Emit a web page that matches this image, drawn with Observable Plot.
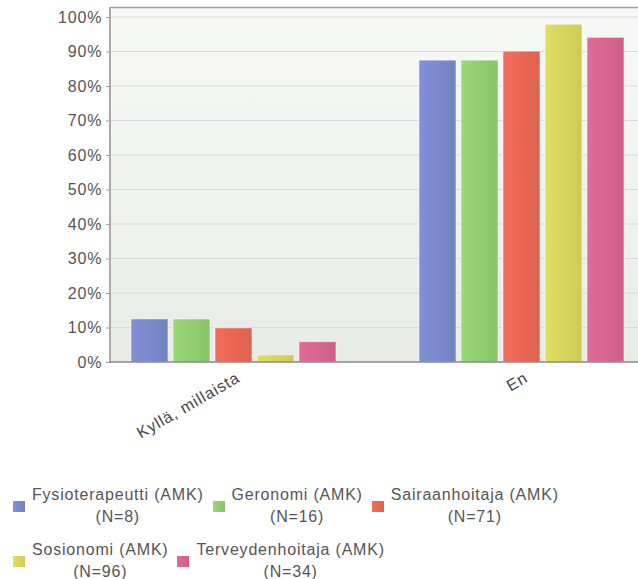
<!DOCTYPE html>
<html>
<head>
<meta charset="utf-8">
<script src="https://cdn.jsdelivr.net/npm/d3@7"></script>
<script src="https://cdn.jsdelivr.net/npm/@observablehq/plot@0.6"></script>
<style>
  body { margin: 0; background: #fff; font-family: "Liberation Sans", Arial, sans-serif; }
  #chart svg text { letter-spacing: 0.9px; }
  .legend { display: flex; flex-wrap: wrap; row-gap: 11px; padding-left: 13px; width: 600px;
            font-size: 16px; color: #555; letter-spacing: 0.8px; margin-top: 6px; }
  .item { display: flex; align-items: center; margin-right: 9px; }
  .sw { width: 12px; height: 11px; }
  .lbl { margin-left: 7px; text-align: center; line-height: 22px; }
</style>
</head>
<body>
<svg width="0" height="0" style="position:absolute">
  <defs id="defs"></defs>
</svg>
<div id="chart"></div>
<div class="legend" id="legend"></div>
<script>
const groups = ["Kyllä, millaista", "En"];
const series = ["Fysioterapeutti (AMK)", "Geronomi (AMK)", "Sairaanhoitaja (AMK)", "Sosionomi (AMK)", "Terveydenhoitaja (AMK)"];
const seriesN = ["(N=8)", "(N=16)", "(N=71)", "(N=96)", "(N=34)"];
const kyllaValues = [0.125, 0.125, 0.099, 0.021, 0.059];
const enValues = [0.875, 0.875, 0.901, 0.979, 0.941];
const yTicks = [0, 0.1, 0.2, 0.3, 0.4, 0.5, 0.6, 0.7, 0.8, 0.9, 1.0];
const colorsLight = ["#8191d8", "#9ad87a", "#f46c5a", "#e0e062", "#e06c98"];
const colorsDark  = ["#7482c0", "#87c468", "#de624f", "#cecb55", "#cc6088"];

const W = 638, H = 478;
const mL = 110, mT = 7, mR = 0, y0 = 362, y100 = 17;
const mB = H - y0;

// gradients
const defs = d3.select("#defs");
series.forEach((s, i) => {
  const g = defs.append("linearGradient").attr("id", "g" + i).attr("x1", 0).attr("x2", 1).attr("y1", 0).attr("y2", 0);
  g.append("stop").attr("offset", "0%").attr("stop-color", colorsLight[i]);
  g.append("stop").attr("offset", "100%").attr("stop-color", colorsDark[i]);
});
const bg = defs.append("linearGradient").attr("id", "bg").attr("x1", 0).attr("x2", 0).attr("y1", 0).attr("y2", 1);
bg.append("stop").attr("offset", "0%").attr("stop-color", "#f8f9f7");
bg.append("stop").attr("offset", "100%").attr("stop-color", "#e8ece5");

const rows = [];
series.forEach((s, i) => {
  rows.push({group: groups[0], series: s, value: kyllaValues[i]});
  rows.push({group: groups[1], series: s, value: enValues[i]});
});

const chart = Plot.plot({
  width: W, height: H,
  marginLeft: mL, marginRight: mR, marginTop: mT, marginBottom: mB,
  style: {fontFamily: "'Liberation Sans', Arial, sans-serif", fontSize: "16px", color: "#555", background: "transparent", overflow: "visible"},
  fx: {domain: groups, paddingInner: 0.173, paddingOuter: 0, label: null},
  x: {domain: series, paddingInner: 0.129, paddingOuter: 0, insetLeft: 19, insetRight: 13, axis: null},
  y: {domain: [0, 1], range: [y0, y100]},
  color: {type: "ordinal", domain: series, range: series.map((s, i) => `url(#g${i})`)},
  marks: [
    Plot.barY(rows, {fx: "group", x: "series", y: "value", fill: "series", stroke: "#ffffff", strokeOpacity: 0.55, strokeWidth: 1}),
    Plot.axisY({ticks: yTicks, tickFormat: d3.format(".0%"), tickSize: 5, tickPadding: 4, stroke: "#999", fill: "#555", label: null}),
    Plot.axisFx({anchor: "bottom", tickRotate: -30, tickSize: 0, tickPadding: 14, dx: 8, fill: "#444", label: null})
  ]
});
document.getElementById("chart").appendChild(chart);

// background and grid across the whole plot area
const svg = d3.select(chart);
const yS = chart.scale("y");
const under = svg.insert("g", ":first-child");
under.append("rect").attr("x", mL).attr("y", mT).attr("width", W - mL - mR).attr("height", y0 - mT).attr("fill", "url(#bg)");
yTicks.slice(1).forEach(t => {
  under.append("line").attr("x1", mL).attr("x2", W - mR).attr("y1", yS.apply(t)).attr("y2", yS.apply(t))
    .attr("stroke", "#d8d9e0").attr("stroke-width", 1);
});
const over = svg.append("g");
over.append("line").attr("x1", mL).attr("x2", W).attr("y1", mT + 0.5).attr("y2", mT + 0.5).attr("stroke", "#a0a0a0").attr("stroke-width", 1.5);
over.append("line").attr("x1", mL).attr("x2", mL).attr("y1", mT).attr("y2", y0).attr("stroke", "#ababab").attr("stroke-width", 2);
over.append("line").attr("x1", mL - 1).attr("x2", W).attr("y1", y0).attr("y2", y0).attr("stroke", "#888").attr("stroke-width", 1.5);

// legend
const legend = d3.select("#legend");
series.forEach((s, i) => {
  const it = legend.append("div").attr("class", "item");
  it.append("div").attr("class", "sw").style("background", `linear-gradient(to right, ${colorsLight[i]}, ${colorsDark[i]})`);
  const l = it.append("div").attr("class", "lbl");
  l.append("div").text(s);
  l.append("div").text(seriesN[i]);
});
</script>
</body>
</html>
